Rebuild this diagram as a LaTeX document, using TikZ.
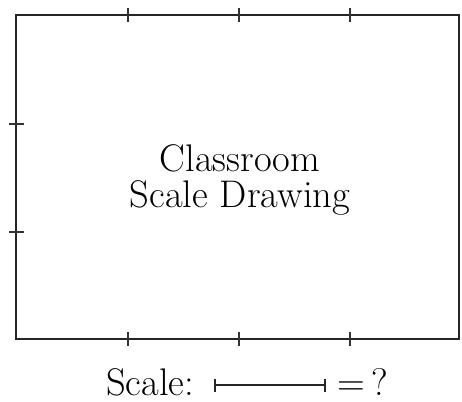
\documentclass[tikz,border=0pt]{standalone}
\usepackage{tikz}
\usetikzlibrary{arrows.meta, positioning}

\tikzset{
  tick/.style={line width=1.6pt, draw=black!80},
  bigtext/.style={font=\fontsize{38.5}{35.5}\selectfont, inner sep=0pt}
}

\begin{document}
\begin{tikzpicture}[x=1pt,y=-1pt]
  \useasboundingbox (0,0) rectangle (462,401);

  \node[draw=black!85, line width=2.6pt, minimum width=443pt, minimum height=324pt, inner sep=0pt] (room) at (237.5,177) {};
  \node[bigtext, align=center] (title) at (240,180) {Classroom\\Scale Drawing};

  % ticks on the sides
  \foreach \x in {128,239,350} {
    \draw[tick] (\x,8) -- (\x,22);
    \draw[tick] (\x,332) -- (\x,346);
  }
  \foreach \y in {124,232}
    \draw[tick] (9,\y) -- (24,\y);

  % scale line
  \node[bigtext, anchor=base west] (scalelbl) at (106,395) {Scale:};
  \coordinate (barl) at (214,385);
  \coordinate (barr) at (326,385);
  \draw[line width=2.2pt, draw=black!85, {Bar[width=13pt,line width=1.6pt]}-{Bar[width=13pt,line width=1.6pt]}] (barl) -- (barr);
  \node[bigtext, anchor=base] (eqlbl) at (363,395) {=\,?};
\end{tikzpicture}
\end{document}
